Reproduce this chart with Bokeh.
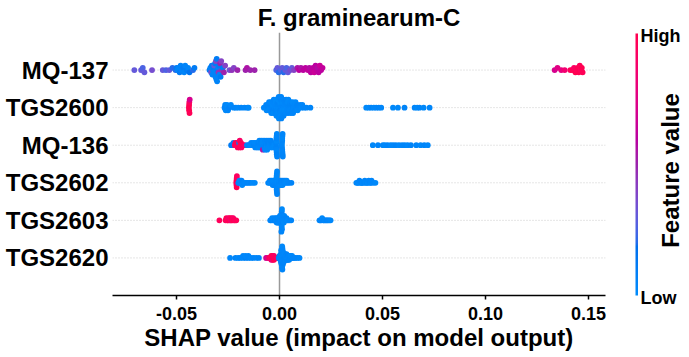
import numpy as np
from bokeh.plotting import figure
from bokeh.layouts import row
from bokeh.models import ColumnDataSource, Range1d, FixedTicker, Span, LinearColorMapper, Label
from bokeh.transform import linear_cmap
from bokeh.embed import file_html
from bokeh.resources import INLINE

FONT = "Liberation Sans"

# features listed bottom -> top
features = ["TGS2620", "TGS2603", "TGS2602", "MQ-136", "TGS2600", "MQ-137"]

x_ticks = [-0.05, 0.0, 0.05, 0.10, 0.15]
x_tick_labels = ["-0.05", "0.00", "0.05", "0.10", "0.15"]

# ---------------- SHAP values and (normalised) feature values ----------------
mq137_shap = [
    -0.0705, -0.0672, -0.0664, -0.0656, -0.0619, -0.0567, -0.0551, -0.0535, -0.0520,
    -0.0505, -0.0500, -0.0495, -0.0490, -0.0485, -0.0480, -0.0474, -0.0468, -0.0463, -0.0458,
    -0.0450, -0.0444, -0.0437, -0.0420, -0.0413,
    -0.0340, -0.0336, -0.0332, -0.0329, -0.0326,
    -0.0323, -0.0321, -0.0319, -0.0317, -0.0315, -0.0313, -0.0311, -0.0309, -0.0307, -0.0305, -0.0303,
    -0.0300, -0.0298, -0.0296, -0.0293, -0.0291, -0.0288, -0.0286, -0.0283,
    -0.0279, -0.0275, -0.0270, -0.0264,
    -0.0243, -0.0231, -0.0222, -0.0204, -0.0165, -0.0158, -0.0142, -0.0121,
    -0.0016, -0.0010, -0.0004, 0.0006, 0.0013, 0.0020, 0.0028, 0.0034, 0.0041, 0.0052, 0.0060, 0.0070,
    0.0087, 0.0095, 0.0104, 0.0115, 0.0126, 0.0138, 0.0145, 0.0152, 0.0158, 0.0163,
    0.0169, 0.0175, 0.0180, 0.0185, 0.0190, 0.0196, 0.0202, 0.0209,
    0.1336, 0.1350, 0.1368, 0.1385, 0.1412, 0.1422, 0.1430, 0.1437, 0.1443, 0.1448,
    0.1453, 0.1458, 0.1463, 0.1468, 0.1472,
]
mq137_feat = [
    0.30, 0.30, 0.25, 0.30, 0.35, 0.30, 0.25, 0.30, 0.20,
    0.20, 0.10, 0.05, 0.05, 0.10, 0.05, 0.05, 0.10, 0.05, 0.05,
    0.10, 0.05, 0.15, 0.20, 0.10,
    0.10, 0.05, 0.35, 0.10, 0.05,
    0.05, 0.10, 0.05, 0.30, 0.05, 0.10, 0.05, 0.40, 0.05, 0.10, 0.05,
    0.10, 0.05, 0.45, 0.10, 0.05, 0.50, 0.10, 0.40,
    0.45, 0.10, 0.50, 0.40,
    0.35, 0.45, 0.40, 0.50, 0.50, 0.55, 0.50, 0.50,
    0.25, 0.30, 0.20, 0.25, 0.30, 0.20, 0.30, 0.25, 0.30, 0.35, 0.30, 0.40,
    0.55, 0.60, 0.55, 0.60, 0.60, 0.62, 0.58, 0.60, 0.62, 0.60,
    0.65, 0.60, 0.62, 0.58, 0.60, 0.65, 0.60, 0.62,
    0.70, 0.75, 0.78, 0.85, 0.95, 0.97, 0.92, 1.00, 0.95, 0.98,
    1.00, 0.96, 0.93, 1.00, 0.97,
]

tgs2600_shap = [
    -0.0440, -0.0439, -0.0439, -0.0438, -0.0437, -0.0436,
    -0.0267, -0.0264, -0.0261, -0.0258, -0.0255, -0.0250, -0.0244, -0.0236, -0.0222, -0.0212,
    -0.0200, -0.0186, -0.0170, -0.0155, -0.0150,
    -0.0076,
    -0.0067, -0.0065, -0.0063,
    -0.0056, -0.0054, -0.0053, -0.0051,
    -0.0045, -0.0044, -0.0043, -0.0042, -0.0040,
    -0.0034, -0.0033, -0.0032, -0.0031, -0.0029, -0.0028,
    -0.0022, -0.0021, -0.0020, -0.0019, -0.0018, -0.0017, -0.0015,
    -0.0012, -0.0011, -0.0010, -0.0009, -0.0008, -0.0007, -0.0006, -0.0004, -0.0003,
    -0.0001, 0.0000, 0.0001, 0.0003, 0.0004, 0.0005, 0.0006, 0.0008, 0.0009,
    0.0011, 0.0013, 0.0014, 0.0016, 0.0017, 0.0019, 0.0020,
    0.0023, 0.0025, 0.0027, 0.0029, 0.0031, 0.0032,
    0.0035, 0.0037, 0.0038, 0.0040, 0.0042, 0.0043,
    0.0047, 0.0049, 0.0051, 0.0053, 0.0055,
    0.0058, 0.0060, 0.0062, 0.0064, 0.0066,
    0.0070, 0.0073, 0.0075, 0.0078,
    0.0082, 0.0085, 0.0088,
    0.0095, 0.0100, 0.0106, 0.0111, 0.0119, 0.0131, 0.0150,
    0.0421, 0.0433, 0.0445, 0.0458, 0.0470, 0.0482, 0.0494, 0.0551, 0.0575, 0.0607,
    0.0656, 0.0669, 0.0680, 0.0700, 0.0729,
]
tgs2600_feat = [
    0.95, 1.00, 0.98, 0.92, 0.97, 0.70,
    0.03, 0.05, 0.02, 0.04, 0.01, 0.03, 0.06, 0.02, 0.04, 0.03,
    0.02, 0.04, 0.03, 0.05, 0.01, 0.02, 0.03, 0.04, 0.02, 0.05,
    0.04, 0.02, 0.03, 0.01, 0.05, 0.03, 0.02, 0.04, 0.03, 0.02,
    0.05, 0.03, 0.01, 0.04, 0.02, 0.03, 0.05, 0.02, 0.04, 0.01,
    0.03, 0.02, 0.04, 0.03, 0.05, 0.02, 0.01, 0.03, 0.04, 0.02,
    0.02, 0.04, 0.05, 0.01, 0.03, 0.04, 0.02, 0.03, 0.05, 0.03,
    0.04, 0.01, 0.02, 0.03, 0.04, 0.05, 0.02, 0.03, 0.01, 0.04,
    0.03, 0.05, 0.02, 0.04, 0.03, 0.02, 0.04, 0.01, 0.03, 0.05,
    0.02, 0.03, 0.04, 0.02, 0.05, 0.03, 0.01, 0.04, 0.02, 0.03,
    0.04, 0.02, 0.03, 0.05, 0.01, 0.03, 0.04, 0.02, 0.03, 0.04,
    0.03, 0.04, 0.02, 0.01, 0.05, 0.02, 0.03, 0.04, 0.03, 0.02,
    0.02, 0.05, 0.03, 0.01, 0.04, 0.02, 0.03,
]

mq136_shap = [
    -0.0235, -0.0229, -0.0224, -0.0217, -0.0214, -0.0209, -0.0206, -0.0203, -0.0199, -0.0196,
    -0.0194, -0.0193, -0.0190, -0.0187, -0.0185, -0.0178, -0.0170,
    -0.0158, -0.0150, -0.0141, -0.0138, -0.0132, -0.0128, -0.0123, -0.0120, -0.0118, -0.0113,
    -0.0111, -0.0108, -0.0104, -0.0102, -0.0100, -0.0098, -0.0094, -0.0092, -0.0091, -0.0089,
    -0.0085, -0.0084, -0.0082, -0.0080, -0.0081, -0.0075, -0.0074, -0.0073, -0.0071, -0.0070,
    -0.0066, -0.0064, -0.0063, -0.0061, -0.0060, -0.0056, -0.0055, -0.0053, -0.0051, -0.0046,
    -0.0045, -0.0043, -0.0042, -0.0037, -0.0035, -0.0033, -0.0026,
    -0.0017, -0.0016, -0.0016, -0.0015, -0.0015, -0.0015, -0.0014, -0.0014, -0.0013, -0.0013, -0.0012,
    0.0011, 0.0012, 0.0012, 0.0013, 0.0013, 0.0013, 0.0014, 0.0014, 0.0015, 0.0015, 0.0016,
    0.0453, 0.0478, 0.0502, 0.0512, 0.0525, 0.0540, 0.0552, 0.0565, 0.0580, 0.0595,
    0.0608, 0.0622, 0.0638, 0.0664, 0.0685, 0.0703, 0.0720,
]
mq136_feat = [
    0.10, 0.12, 0.08, 0.95, 1.00, 0.95, 1.00, 0.92, 0.97, 0.10,
    1.00, 0.90, 0.95, 1.00, 0.93, 0.97, 0.90,
    0.03, 0.05, 0.02, 0.04, 0.01, 0.03, 0.06, 0.02, 0.04, 0.03,
    0.02, 0.04, 0.03, 0.05, 0.01, 0.02, 0.03, 0.04, 0.02, 0.05,
    0.04, 0.02, 0.03, 0.01, 0.55, 0.03, 0.02, 0.04, 0.03, 0.02,
    0.05, 0.03, 0.01, 0.04, 0.02, 0.03, 0.05, 0.02, 0.04, 0.01,
    0.03, 0.02, 0.04, 0.03, 0.05, 0.02, 0.01,
    0.02, 0.04, 0.05, 0.01, 0.03, 0.04, 0.02, 0.03, 0.05, 0.03, 0.04,
    0.01, 0.02, 0.03, 0.04, 0.05, 0.02, 0.03, 0.01, 0.04, 0.03, 0.05,
    0.02, 0.04, 0.03, 0.02, 0.04, 0.01, 0.03, 0.05, 0.02, 0.03,
    0.04, 0.02, 0.05, 0.03, 0.01, 0.04, 0.02,
]

tgs2602_shap = [
    -0.0210, -0.0209, -0.0209, -0.0208, -0.0208, -0.0207,
    -0.0200, -0.0198, -0.0195, -0.0192, -0.0190, -0.0186, -0.0184, -0.0181, -0.0176, -0.0170,
    -0.0163, -0.0156, -0.0148, -0.0140, -0.0130, -0.0120,
    -0.0055, -0.0049, -0.0047, -0.0042, -0.0040, -0.0036, -0.0034, -0.0033, -0.0029, -0.0028,
    -0.0026, -0.0022, -0.0021, -0.0020,
    -0.0016, -0.0016, -0.0015, -0.0015, -0.0014, -0.0014, -0.0014, -0.0013, -0.0013, -0.0012, -0.0012,
    -0.0009, -0.0007, -0.0006, -0.0002, 0.0000, 0.0002, 0.0005, 0.0006, 0.0008, 0.0011,
    0.0013, 0.0015, 0.0018, 0.0021, 0.0025, 0.0028, 0.0032, 0.0035, 0.0040, 0.0047, 0.0058,
    0.0373, 0.0380, 0.0384, 0.0388, 0.0395, 0.0398, 0.0402, 0.0410, 0.0414, 0.0418,
    0.0425, 0.0429, 0.0433, 0.0440, 0.0444, 0.0447, 0.0455, 0.0466,
]
tgs2602_feat = [
    0.95, 1.00, 0.90, 0.97, 1.00, 0.93,
    0.03, 0.05, 0.02, 0.04, 0.01, 0.03, 0.06, 0.02, 0.04, 0.03,
    0.02, 0.04, 0.03, 0.05, 0.01, 0.02,
    0.04, 0.02, 0.03, 0.01, 0.05, 0.03, 0.02, 0.04, 0.03, 0.02,
    0.05, 0.03, 0.01, 0.04,
    0.02, 0.03, 0.05, 0.02, 0.04, 0.01, 0.03, 0.02, 0.04, 0.03, 0.05,
    0.02, 0.01, 0.03, 0.04, 0.02, 0.02, 0.04, 0.05, 0.01, 0.03,
    0.04, 0.02, 0.03, 0.05, 0.03, 0.04, 0.01, 0.02, 0.03, 0.04, 0.05,
    0.02, 0.03, 0.01, 0.04, 0.03, 0.05, 0.02, 0.04, 0.03, 0.02,
    0.04, 0.01, 0.03, 0.05, 0.02, 0.03, 0.04, 0.02,
]

tgs2603_shap = [
    -0.0292,
    -0.0262, -0.0258, -0.0254, -0.0250, -0.0247, -0.0244, -0.0241, -0.0238, -0.0235, -0.0232,
    -0.0229, -0.0225, -0.0221, -0.0216, -0.0210,
    -0.0045, -0.0040, -0.0036, -0.0032, -0.0028, -0.0025, -0.0022, -0.0019, -0.0016, -0.0014,
    -0.0011, -0.0010, -0.0009, -0.0006, -0.0005, -0.0004, -0.0002, 0.0000, 0.0001, 0.0002,
    0.0003, 0.0004, 0.0006,
    0.0008, 0.0009, 0.0009, 0.0010, 0.0010, 0.0010, 0.0011, 0.0011, 0.0012, 0.0012, 0.0009,
    0.0015, 0.0016, 0.0017, 0.0019, 0.0020, 0.0021, 0.0023, 0.0024, 0.0027, 0.0030,
    0.0034, 0.0038, 0.0043, 0.0050, 0.0057,
    0.0194, 0.0198, 0.0203, 0.0207, 0.0212, 0.0216, 0.0221, 0.0226, 0.0231, 0.0236,
    0.0242, 0.0248,
]
tgs2603_feat = [
    0.95,
    0.95, 1.00, 0.90, 0.97, 0.85, 1.00, 0.93, 0.95, 0.80, 1.00,
    0.96, 0.90, 0.98, 0.92, 0.95,
    0.03, 0.05, 0.02, 0.04, 0.01, 0.03, 0.06, 0.02, 0.04, 0.03,
    0.02, 0.04, 0.03, 0.05, 0.01, 0.02, 0.03, 0.04, 0.02, 0.05,
    0.04, 0.02, 0.03,
    0.01, 0.05, 0.03, 0.02, 0.04, 0.03, 0.02, 0.05, 0.03, 0.01, 0.04,
    0.02, 0.03, 0.05, 0.02, 0.04, 0.01, 0.03, 0.02, 0.04, 0.03,
    0.05, 0.02, 0.01, 0.03, 0.04,
    0.02, 0.04, 0.05, 0.01, 0.03, 0.04, 0.02, 0.03, 0.05, 0.03,
    0.04, 0.02,
]

tgs2620_shap = [
    -0.0240, -0.0214, -0.0201, -0.0191, -0.0177, -0.0177, -0.0164, -0.0164, -0.0151, -0.0151,
    -0.0138, -0.0126, -0.0113, -0.0100,
    -0.0065, -0.0060,
    -0.0049, -0.0045, -0.0042, -0.0040, -0.0040, -0.0037, -0.0035, -0.0033, -0.0033, -0.0030,
    -0.0028, -0.0027, -0.0027, -0.0023, -0.0020, -0.0017, -0.0015, -0.0012,
    -0.0004, -0.0001, 0.0000, 0.0002, 0.0003, 0.0004,
    0.0005, 0.0006, 0.0006, 0.0007, 0.0007,
    0.0008, 0.0009, 0.0009, 0.0010, 0.0010, 0.0010, 0.0009, 0.0008,
    0.0012, 0.0012, 0.0012, 0.0013, 0.0013, 0.0013, 0.0013, 0.0012, 0.0014, 0.0014, 0.0012,
    0.0013, 0.0014,
    0.0015, 0.0015, 0.0016, 0.0016, 0.0016, 0.0017, 0.0017, 0.0015,
    0.0018, 0.0019, 0.0019, 0.0020, 0.0021,
    0.0022, 0.0023, 0.0023, 0.0024,
    0.0025, 0.0026, 0.0026, 0.0027,
    0.0028, 0.0029, 0.0030,
    0.0032, 0.0033, 0.0033, 0.0034,
    0.0035, 0.0036, 0.0037,
    0.0039, 0.0040, 0.0041,
    0.0042, 0.0044,
    0.0045, 0.0046, 0.0047,
    0.0049, 0.0051,
    0.0052, 0.0054,
    0.0056, 0.0059, 0.0061, 0.0066, 0.0070, 0.0077, 0.0087, 0.0097,
]
tgs2620_feat = [
    0.03, 0.05, 0.02, 0.04, 0.01, 0.03, 0.06, 0.02, 0.04, 0.03,
    0.02, 0.04, 0.03, 0.05,
    0.60, 0.75,
    0.95, 1.00, 0.90, 0.97, 0.85, 1.00, 0.93, 0.95, 0.80, 1.00,
    0.96, 0.90, 0.98, 0.92, 0.95, 1.00, 0.88, 0.94,
    0.04, 0.02, 0.03, 0.01, 0.05, 0.03,
    0.02, 0.04, 0.03, 0.02, 0.05,
    0.03, 0.01, 0.04, 0.02, 0.03, 0.05, 0.02, 0.04,
    0.01, 0.03, 0.02, 0.04, 0.03, 0.05, 0.02, 0.01, 0.03, 0.04, 0.02,
    0.02, 0.04,
    0.05, 0.01, 0.03, 0.04, 0.02, 0.03, 0.05, 0.03,
    0.04, 0.01, 0.02, 0.03, 0.04,
    0.05, 0.02, 0.03, 0.01,
    0.04, 0.03, 0.05, 0.02,
    0.04, 0.03, 0.02,
    0.04, 0.01, 0.03, 0.05,
    0.02, 0.03, 0.04,
    0.02, 0.05, 0.03,
    0.01, 0.04,
    0.02, 0.03, 0.04,
    0.02, 0.03,
    0.05, 0.01,
    0.03, 0.04, 0.02, 0.03, 0.04, 0.03, 0.04, 0.02,
]

rows = [
    ("TGS2620", tgs2620_shap, tgs2620_feat),
    ("TGS2603", tgs2603_shap, tgs2603_feat),
    ("TGS2602", tgs2602_shap, tgs2602_feat),
    ("MQ-136", mq136_shap, mq136_feat),
    ("TGS2600", tgs2600_shap, tgs2600_feat),
    ("MQ-137", mq137_shap, mq137_feat),
]


def red_blue_palette(n=100):
    """Blue -> purple -> red ramp built in LCh space (D65)."""
    blue_lch = (54.0, 70.0, 4.6588)
    red_lch = (54.0, 90.0, 0.35470565 + 2 * np.pi)
    l_mid = 40.0
    L = np.concatenate([np.linspace(blue_lch[0], l_mid, n // 2),
                        np.linspace(l_mid, red_lch[0], n // 2)])
    C = np.linspace(blue_lch[1], red_lch[1], n)
    H = np.linspace(blue_lch[2], red_lch[2], n)
    a, b = C * np.cos(H), C * np.sin(H)
    fy = (L + 16) / 116
    fx, fz = fy + a / 500, fy - b / 200

    def finv(t):
        t3 = t ** 3
        return np.where(t3 > 0.008856, t3, (t - 16 / 116) / 7.787)

    xyz = np.vstack([0.95047 * finv(fx), finv(fy), 1.08883 * finv(fz)])
    m = np.array([[3.2406, -1.5372, -0.4986],
                  [-0.9689, 1.8758, 0.0415],
                  [0.0557, -0.2040, 1.0570]])
    rgb = m @ xyz
    rgb = np.where(rgb > 0.0031308, 1.055 * np.clip(rgb, 1e-9, None) ** (1 / 2.4) - 0.055, 12.92 * rgb)
    rgb = np.clip(rgb, 0, 1)
    return ["#%02x%02x%02x" % tuple(int(round(c * 255)) for c in col) for col in rgb.T]


def swarm_offsets(vals, nbins=100, row_height=0.4):
    """Beeswarm vertical offsets: stack points that fall in the same value bin."""
    s = np.asarray(vals, dtype=float)
    quant = np.round(nbins * (s - s.min()) / (s.max() - s.min() + 1e-8))
    order = np.argsort(quant, kind="stable")
    ys = np.zeros(len(s))
    layer, last_bin = 0, -1
    for i in order:
        if quant[i] != last_bin:
            layer = 0
        ys[i] = np.ceil(layer / 2) * ((layer % 2) * 2 - 1)
        layer += 1
        last_bin = quant[i]
    ys *= 0.9 * (row_height / np.max(ys + 1))
    return ys


palette = red_blue_palette(100)

xs, ys, fs = [], [], []
for pos, (name, shap_vals, feat_vals) in enumerate(rows):
    if len(shap_vals) != len(feat_vals):
        raise ValueError(f"{name}: {len(shap_vals)} shap values vs {len(feat_vals)} feature values")
    off = swarm_offsets(shap_vals)
    xs.extend(shap_vals)
    ys.extend(list(pos + off))
    fs.extend(feat_vals)

src = ColumnDataSource(dict(x=xs, y=ys, f=fs))

FIG_H = 357
TOP, BOTTOM = 32, 62
y_lo, y_hi = -1, len(features)

# ---------------- main beeswarm panel ----------------
p = figure(width=620, height=FIG_H,
           x_range=Range1d(-0.0811, 0.1583), y_range=Range1d(y_lo, y_hi),
           output_backend="svg", toolbar_location=None,
           min_border_left=112, min_border_right=15, min_border_top=TOP, min_border_bottom=BOTTOM,
           title="F. graminearum-C")
p.title.align = "center"
p.title.vertical_align = "top"
p.title.text_font = FONT
p.title.text_font_size = "24px"
p.title.text_font_style = "bold"
p.title.text_color = "black"
p.title.standoff = 0
p.outline_line_color = None
p.xgrid.visible = False
p.ygrid.visible = False

for pos in range(len(features)):
    p.add_layout(Span(location=pos, dimension="width", line_color="#cccccc",
                      line_width=1, line_dash="1 2", level="underlay"))
p.add_layout(Span(location=0, dimension="height", line_color="#999999",
                  line_width=1.5, level="underlay"))

p.scatter(x="x", y="y", source=src, size=5.8, line_color=None,
          fill_color=linear_cmap("f", palette, 0, 1))

xa = p.xaxis[0]
xa.ticker = FixedTicker(ticks=x_ticks)
xa.major_label_overrides = {t: l for t, l in zip(x_ticks, x_tick_labels)}
xa.minor_tick_line_color = None
xa.major_tick_in = 0
xa.major_tick_out = 4
xa.major_tick_line_width = 1.5
xa.major_tick_line_color = "black"
xa.axis_line_width = 1.5
xa.axis_line_color = "black"
xa.major_label_text_font = FONT
xa.major_label_text_font_size = "18px"
xa.major_label_text_font_style = "bold"
xa.major_label_text_color = "black"
xa.major_label_standoff = 7
xa.axis_label = "SHAP value (impact on model output)"
xa.axis_label_text_font = FONT
xa.axis_label_text_font_size = "24px"
xa.axis_label_text_font_style = "bold"
xa.axis_label_text_color = "black"
xa.axis_label_standoff = 1

ya = p.yaxis[0]
ya.ticker = FixedTicker(ticks=list(range(len(features))))
ya.major_label_overrides = {i: n for i, n in enumerate(features)}
ya.axis_line_color = None
ya.major_tick_line_color = None
ya.major_tick_in = 0
ya.major_tick_out = 0
ya.minor_tick_line_color = None
ya.minor_tick_in = 0
ya.minor_tick_out = 0
ya.major_label_text_font = FONT
ya.major_label_text_font_size = "24px"
ya.major_label_text_font_style = "bold"
ya.major_label_text_color = "black"
ya.major_label_standoff = 4

# ---------------- colour bar panel (pixel coordinates, origin bottom-left) ----------------
CB_W = 69
bar_left, bar_width = 15, 2.5
bar_bottom, bar_top = FIG_H - 295, FIG_H - 33

cb = figure(width=CB_W, height=FIG_H, x_range=Range1d(0, CB_W), y_range=Range1d(0, FIG_H),
            output_backend="svg", toolbar_location=None, min_border=0,
            x_axis_type=None, y_axis_type=None)
if "frame_align" in cb.properties():
    cb.frame_align = False
cb.outline_line_color = None
cb.xgrid.visible = False
cb.ygrid.visible = False

cb.image(image=[np.linspace(0, 1, 256).reshape(-1, 1)], x=bar_left, y=bar_bottom,
         dw=bar_width, dh=bar_top - bar_bottom,
         color_mapper=LinearColorMapper(palette=palette, low=0, high=1))

for txt, yv in (("High", bar_top), ("Low", bar_bottom)):
    cb.add_layout(Label(x=bar_left + 5, y=yv, y_offset=-2, text=txt,
                        text_font=FONT, text_font_size="18px", text_font_style="bold",
                        text_color="black", text_align="left", text_baseline="middle"))

cb.add_layout(Label(x=50, y=FIG_H - 170, text="Feature value", angle=np.pi / 2,
                    text_font=FONT, text_font_size="24px", text_font_style="bold",
                    text_color="black", text_align="center", text_baseline="middle"))

layout = row(p, cb)
open("out.html", "w").write(file_html(layout, INLINE))
